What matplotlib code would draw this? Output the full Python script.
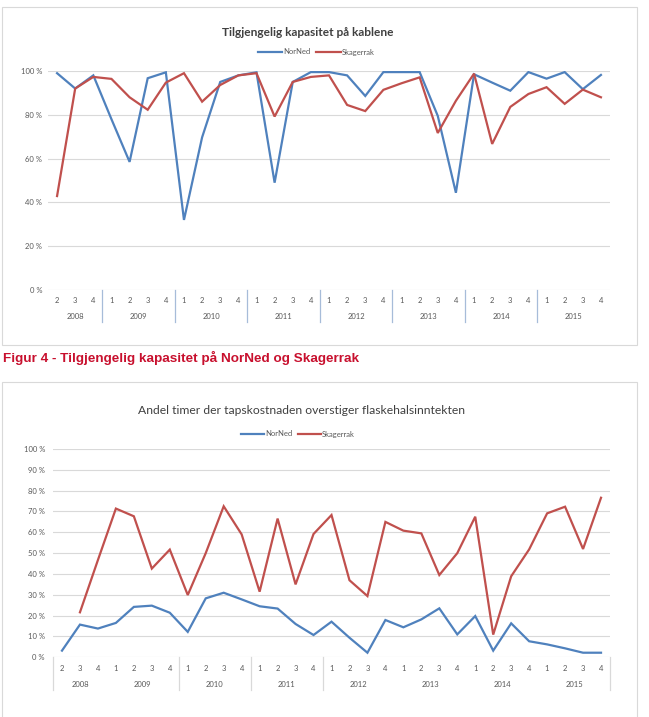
import numpy as np
import matplotlib
matplotlib.use("Agg")
import matplotlib.pyplot as plt
from matplotlib.patches import Rectangle

# ---------- Data ----------
years = ["2008", "2009", "2010", "2011", "2012", "2013", "2014", "2015"]
quarters = ["2", "3", "4"] + ["1", "2", "3", "4"] * 7

# Tilgjengelig kapasitet (%)
cap_norned = [99, 92, 98, 78, 58.5, 96.7, 99.4, 32, 69.7, 95, 98, 99.4, 49, 95, 99.5,
              99.5, 98, 88.6, 99.5, 99.5, 99.5, 79.5, 44.4, 98.5, 94.7, 91, 99.5, 96.5, 99.5, 91.7, 98.2]
cap_skagerrak = [42.9, 92, 97.3, 96.4, 88, 82.3, 94.7, 99, 86, 93.6, 98, 99, 79.2, 95, 97.3,
                 98, 84.5, 81.7, 91.4, 94.4, 97.1, 71.7, 86.4, 98.8, 66.7, 83.6, 89.5, 92.6, 85, 91.5, 88]

# Andel timer tapskostnad > flaskehalsinntekt (%)
share_norned = [3.2, 15.7, 13.8, 16.5, 24.2, 24.8, 21.4, 12.2, 28.3, 31, 27.8, 24.5, 23.4, 16, 10.7,
                17.1, 9.4, 2.2, 17.9, 14.4, 18.2, 23.5, 11, 19.8, 3.2, 16.3, 7.7, 6.2, 4.3, 2.2, 2.2]
share_skagerrak = [np.nan, 21.6, 46.7, 71.4, 67.7, 42.6, 51.7, 29.9, 50, 72.5, 59, 31.5, 66.6, 35, 59.2,
                   68.3, 37, 29.4, 65, 60.8, 59.5, 39.5, 50, 67.5, 10.9, 38.9, 51.8, 69.1, 72.3, 52, 76.6]

BLUE = "#4F81BD"
RED = "#C0504D"
GRID = "#D9D9D9"
TXT = "#595959"

W, H = 649, 717
x = np.arange(len(quarters))

# year boundaries (index of first quarter of each year)
year_start = [0] + [3 + 4 * i for i in range(7)]
year_end = year_start[1:] + [len(quarters)]

plt.rcParams['font.family'] = ['Lato', 'DejaVu Sans']

fig = plt.figure(figsize=(W / 100, H / 100), dpi=100)


def box(left, top, right, bottom):
    fig.add_artist(Rectangle((left / W, 1 - bottom / H), (right - left) / W, (bottom - top) / H,
                             transform=fig.transFigure, fill=False, edgecolor="#D9D9D9", lw=0.8))


def make_axes(left, top, right, bottom):
    return fig.add_axes([left / W, 1 - bottom / H, (right - left) / W, (bottom - top) / H])


def style(ax, yticks, pad_px):
    ax.set_xlim(-0.5, len(quarters) - 0.5)
    ax.set_ylim(0, 100)
    ax.set_yticks(yticks)
    ax.set_yticklabels([f"{t} %" for t in yticks])
    ax.tick_params(axis="y", length=0, pad=pad_px * 0.72, labelsize=5.5, labelcolor=TXT)
    ax.set_xticks([])
    for s in ax.spines.values():
        s.set_visible(False)
    for t in yticks:
        ax.axhline(t, color=GRID, lw=0.8, zorder=0)


def xlabels(ax, h_px, q_px, y_px, sep_px, sep_color, sep_at):
    tr = ax.get_xaxis_transform()
    for xi, q in zip(x, quarters):
        ax.text(xi, -q_px / h_px, q, transform=tr, ha="center", va="center",
                fontsize=5.5, color=TXT, clip_on=False)
    for yr, a, b in zip(years, year_start, year_end):
        ax.text((a + b - 1) / 2, -y_px / h_px, yr, transform=tr, ha="center", va="center",
                fontsize=5.5, color=TXT, clip_on=False)
    for p in sep_at:
        ax.plot([p - 0.5, p - 0.5], [0, -sep_px / h_px], transform=tr, color=sep_color,
                lw=0.9, clip_on=False)


# ---------- Figur 1: Tilgjengelig kapasitet ----------
box(2, 7, 637, 345)
ax1 = make_axes(48, 71, 610, 290)
style(ax1, [0, 20, 40, 60, 80, 100], 6)
ax1.plot(x, cap_norned, color=BLUE, lw=1.6, label="NorNed", solid_joinstyle="miter")
ax1.plot(x, cap_skagerrak, color=RED, lw=1.6, label="Skagerrak", solid_joinstyle="miter")
xlabels(ax1, 219, 10, 26, 32, "#A7BCD9", year_start[1:])
fig.text(308 / W, 1 - 32 / H, "Tilgjengelig kapasitet på kablene", ha="center", va="center",
         fontsize=8.6, fontweight="bold", color="#404040")
fig.legend(*ax1.get_legend_handles_labels(), loc="center", bbox_to_anchor=(316 / W, 1 - 52 / H),
           ncol=2, frameon=False, fontsize=5.5, handlelength=3.2, handletextpad=0.1,
           columnspacing=0.8, labelcolor=TXT)

# caption
fig.text(3 / W, 1 - 358 / H, "Figur 4 - Tilgjengelig kapasitet på NorNed og Skagerrak",
         ha="left", va="center", fontsize=9.7, fontweight="bold", color="#C8102E",
         family="Liberation Sans")

# ---------- Figur 2: Andel timer ----------
box(2, 382, 637, 730)
ax2 = make_axes(53, 449, 610, 657.3)
style(ax2, list(range(0, 101, 10)), 8)
ax2.plot(x, share_norned, color=BLUE, lw=1.6, label="NorNed", solid_joinstyle="miter")
ax2.plot(x, share_skagerrak, color=RED, lw=1.6, label="Skagerrak", solid_joinstyle="miter")
xlabels(ax2, 208.3, 11, 27, 33, GRID, [0, 7, 11, 15, len(quarters)])
fig.text(302 / W, 1 - 410 / H, "Andel timer der tapskostnaden overstiger flaskehalsinntekten",
         ha="center", va="center", fontsize=8.7, color="#404040")
fig.legend(*ax2.get_legend_handles_labels(), loc="center", bbox_to_anchor=(298 / W, 1 - 434 / H),
           ncol=2, frameon=False, fontsize=5.5, handlelength=3.0, handletextpad=0.1,
           columnspacing=0.8, labelcolor=TXT)

fig.savefig("out.png", dpi=100)
